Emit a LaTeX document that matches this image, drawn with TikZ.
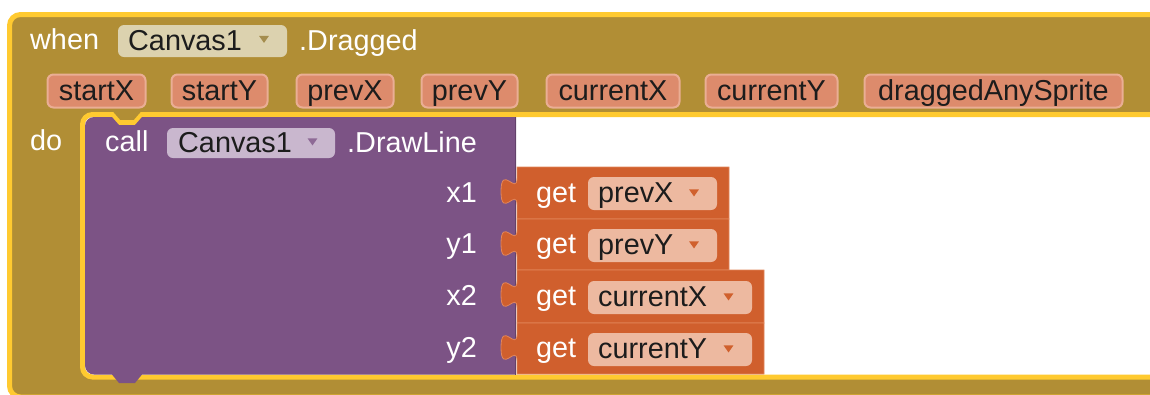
\documentclass[tikz,border=0pt]{standalone}
\usepackage{fontspec}
\setmainfont{Liberation Sans}
\usetikzlibrary{shapes.geometric}
\definecolor{goldblk}{HTML}{B18E35}
\definecolor{hilite}{HTML}{FFCA30}
\definecolor{purpblk}{HTML}{7C5385}
\definecolor{orangeblk}{HTML}{D05F2D}
\definecolor{orangeedge}{HTML}{E2865A}
\definecolor{paramfill}{HTML}{DD8B6C}
\definecolor{paramedge}{HTML}{EAAE94}
\definecolor{golddd}{HTML}{DCD2AF}
\definecolor{goldarrow}{HTML}{A48D4E}
\definecolor{purpdd}{HTML}{C9B7CE}
\definecolor{purparrow}{HTML}{8E6A96}
\definecolor{orangedd}{HTML}{EDB9A0}
\definecolor{orangearrow}{HTML}{D0602D}
\definecolor{darktext}{HTML}{1C1C1C}
\tikzset{
  bfont/.style={font=\fontsize{28.8}{34}\selectfont},
  wtext/.style={bfont, text=white, inner sep=0pt},
  dtext/.style={bfont, text=darktext, inner sep=0pt},
  pchip/.style={bfont, text=darktext, fill=paramfill, draw=paramedge, line width=2pt,
    rounded corners=6pt, minimum height=33pt, inner sep=0pt, text height=22pt, text depth=4pt},
  ddchip/.style={rounded corners=6pt, minimum height=#1, inner sep=0pt},
  ddarrow/.style={isosceles triangle, shape border rotate=270, isosceles triangle apex angle=70,
    minimum width=9pt, minimum height=7pt, inner sep=0pt},
  getblk/.style={fill=orangeblk, draw=orangeedge, line width=0.8pt},
}
\newcommand\getblock[3]{%
  \filldraw[getblk] (517,#1) -- (#3,#1) -- (#3,#2) -- (517,#2) -- (517,#1+38)
    .. controls (517,#1+20) and (501,#1+52.4) .. (501,#1+24.5)
    .. controls (501,#1-3.4) and (517,#1+29) .. (517,#1+11) -- cycle;}
\begin{document}
\begin{tikzpicture}[x=1pt,y=-1pt]
\useasboundingbox (0,0) rectangle (1150,394);
% outer event block
\filldraw[fill=goldblk, draw=hilite, line width=5pt]
  (1165,14.5) [rounded corners=11pt] -- (9.5,14.5) -- (9.5,397) [sharp corners] -- (1165,397) -- cycle;
% statement slot
\filldraw[fill=white, draw=hilite, line width=5pt]
  (1165,114.5) -- (142,114.5) -- (135,122.5) -- (119,122.5) -- (112,114.5)
  [rounded corners=10pt] -- (82.5,114.5) -- (82.5,377) [sharp corners] -- (1165,377);
% call block
\fill[purpblk]
  (516,117) -- (142,117) -- (135,125) -- (119,125) -- (112,117)
  [rounded corners=9pt] -- (85,117) -- (85,374.5) [sharp corners] -- (112,374.5)
  -- (119,383) -- (135,383) -- (142,374.5) -- (516,374.5) -- cycle;
\draw[purpblk!80!black, line width=1pt] (515.5,117) -- (515.5,374.5);
% get blocks
\getblock{167}{219}{729}
\getblock{219}{270}{729}
\getblock{270}{323}{764}
\getblock{323}{374}{764}
% header row
\node[wtext, anchor=base west] (when) at (30,49.5) {when};
\node[ddchip=32pt, fill=golddd, minimum width=169pt] (evComp) at (202.5,41) {};
\node[dtext, anchor=base west] (evCompT) at (128,50) {Canvas1};
\node[ddarrow, fill=goldarrow] (evCompA) at (264,38.5) {};
\node[wtext, anchor=base west] (dragged) at (299,50) {.Dragged};
% parameters
\node[pchip, minimum width=98pt] (pStartX) at (96.5,91) {startX};
\node[pchip, minimum width=96pt] (pStartY) at (219.5,91) {startY};
\node[pchip, minimum width=97pt] (pPrevX) at (345,91) {prevX};
\node[pchip, minimum width=96pt] (pPrevY) at (469.5,91) {prevY};
\node[pchip, minimum width=133pt] (pCurX) at (613,91) {currentX};
\node[pchip, minimum width=132pt] (pCurY) at (771.5,91) {currentY};
\node[pchip, minimum width=258pt] (pDrag) at (993.5,91) {draggedAnySprite};
% do
\node[wtext, anchor=base west] (do) at (30,150) {do};
% call block text
\node[wtext, anchor=base west] (call) at (105,151.5) {call};
\node[ddchip=30pt, fill=purpdd, minimum width=168pt] (mComp) at (251,143) {};
\node[dtext, anchor=base west] (mCompT) at (178,152) {Canvas1};
\node[ddarrow, fill=purparrow] (mCompA) at (312.5,141) {};
\node[wtext, anchor=base west] (drawline) at (347,152) {.DrawLine};
% argument labels
\node[wtext, anchor=base east] (lx1) at (477,202) {x1};
\node[wtext, anchor=base east] (ly1) at (477,253) {y1};
\node[wtext, anchor=base east] (lx2) at (477,305) {x2};
\node[wtext, anchor=base east] (ly2) at (477,357) {y2};
% get contents
\node[wtext, anchor=base west] (g1) at (536,202) {get};
\node[ddchip=33pt, fill=orangedd, minimum width=129pt] (d1) at (652.5,193.5) {};
\node[dtext, anchor=base west] (t1) at (598,202.5) {prevX};
\node[ddarrow, fill=orangearrow] (a1) at (694,192) {};
\node[wtext, anchor=base west] (g2) at (536,253) {get};
\node[ddchip=33pt, fill=orangedd, minimum width=129pt] (d2) at (652.5,245.5) {};
\node[dtext, anchor=base west] (t2) at (598,254) {prevY};
\node[ddarrow, fill=orangearrow] (a2) at (694,244) {};
\node[wtext, anchor=base west] (g3) at (536,305) {get};
\node[ddchip=33pt, fill=orangedd, minimum width=164pt] (d3) at (670,297.5) {};
\node[dtext, anchor=base west] (t3) at (598,306) {currentX};
\node[ddarrow, fill=orangearrow] (a3) at (728.5,296) {};
\node[wtext, anchor=base west] (g4) at (536,357) {get};
\node[ddchip=33pt, fill=orangedd, minimum width=164pt] (d4) at (670,349.5) {};
\node[dtext, anchor=base west] (t4) at (598,358) {currentY};
\node[ddarrow, fill=orangearrow] (a4) at (728.5,348) {};
\end{tikzpicture}
\end{document}
